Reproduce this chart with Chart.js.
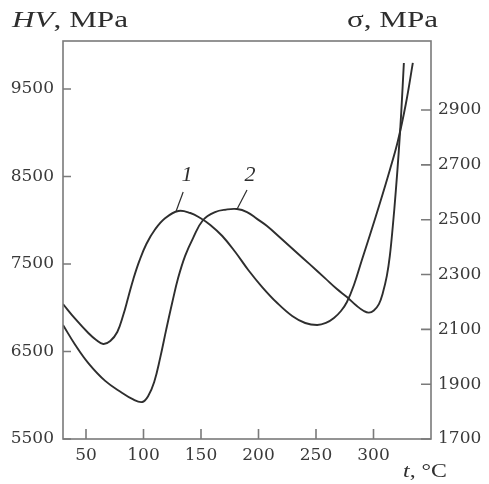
<!DOCTYPE html>
<html><head><meta charset="utf-8">
<script src="https://cdn.jsdelivr.net/npm/chart.js@4"></script>
<style>html,body{margin:0;padding:0;background:#fff;}#wrap{width:489px;height:484px;}</style>
</head><body><div id="wrap"><canvas id="c" width="489" height="484"></canvas></div>
<script>
// Curve 1 : HV (left axis), curve 2 : sigma (right axis)
const curve1T  = [30, 40.7, 52, 58.9, 65, 71.1, 77.2, 82.4, 86.8, 91.2, 96.4, 102.5, 110.3, 119, 130.3, 140.7, 149.4, 158.1, 168.5, 179.8, 191.1, 203.2, 216.3, 229.3, 240.6, 251, 258.6, 265.6, 271.7, 276.9, 283, 289.9, 296.9, 305.6, 314.2, 321.2, 328.1, 334.2];
const curve1HV = [7043, 6872, 6712, 6632, 6586, 6620, 6723, 6917, 7123, 7329, 7535, 7729, 7900, 8026, 8106, 8083, 8026, 7946, 7820, 7637, 7432, 7237, 7054, 6906, 6826, 6803, 6826, 6883, 6963, 7066, 7260, 7546, 7832, 8197, 8575, 8906, 9329, 9798];
const curve2T     = [30, 40.7, 52, 66.7, 81.5, 90.2, 98.9, 104.1, 109.3, 114.5, 119.7, 124.9, 130.1, 136.2, 143.1, 151.8, 162.2, 171.8, 181.3, 190, 198.7, 207.4, 218.7, 231.7, 244.7, 257.8, 268.2, 276.9, 285.6, 291.6, 296, 300.3, 304.7, 308.1, 311.6, 314.2, 316.8, 319.4, 322, 324.2, 326.4];
const curve2Sigma = [2116, 2043, 1977, 1912, 1868, 1846, 1835, 1857, 1908, 1996, 2098, 2196, 2287, 2368, 2433, 2499, 2528, 2537, 2539, 2528, 2503, 2477, 2435, 2386, 2337, 2287, 2247, 2218, 2185, 2167, 2161, 2169, 2192, 2233, 2295, 2368, 2477, 2605, 2751, 2897, 3072];
const xTicks     = [50, 100, 150, 200, 250, 300];
const hvTicks    = [5500, 6500, 7500, 8500, 9500];
const sigmaTicks = [1700, 1900, 2100, 2300, 2500, 2700, 2900];
const curveNames = ['1', '2'];
const leftTitle  = [{text: 'HV', italic: true}, {text: ', MPa', italic: false}];
const rightTitle = [{text: 'σ, MPa', italic: false}];
const xTitle     = [{text: 't', italic: true}, {text: ', °C', italic: false}];

const INK = '#2e2e2e';
const TXT = '#3a3a3a';
const FRAME = '#7a7a7a';
const tickFont = {family: '"DejaVu Serif"', size: 17};

function drawStretched(ctx, parts, x, baseline, targetW, size) {
  let natural = 0;
  parts.forEach(p => { ctx.font = (p.italic ? 'italic ' : '') + size + 'px "Liberation Serif"'; natural += ctx.measureText(p.text).width; });
  const sx = targetW / natural;
  ctx.save();
  ctx.translate(x, baseline);
  ctx.scale(sx, 1);
  ctx.fillStyle = INK;
  ctx.textBaseline = 'alphabetic';
  ctx.textAlign = 'left';
  let cx = 0;
  parts.forEach(p => { ctx.font = (p.italic ? 'italic ' : '') + size + 'px "Liberation Serif"'; ctx.fillText(p.text, cx, 0); cx += ctx.measureText(p.text).width; });
  ctx.restore();
}

const decor = {
  id: 'decor',
  afterDraw(chart) {
    const ctx = chart.ctx, ca = chart.chartArea;
    const sx = chart.scales.x, sl = chart.scales.yL, sr = chart.scales.yR;
    ctx.save();
    ctx.strokeStyle = FRAME;
    ctx.lineWidth = 1.6;
    ctx.strokeRect(ca.left, ca.top, ca.right - ca.left, ca.bottom - ca.top);
    ctx.beginPath();
    xTicks.forEach(v => { const p = sx.getPixelForValue(v); ctx.moveTo(p, ca.bottom); ctx.lineTo(p, ca.bottom - 10); });
    hvTicks.forEach(v => { const p = sl.getPixelForValue(v); ctx.moveTo(ca.left, p); ctx.lineTo(ca.left + 8, p); });
    sigmaTicks.forEach(v => { const p = sr.getPixelForValue(v); ctx.moveTo(ca.right, p); ctx.lineTo(ca.right - 10, p); });
    ctx.stroke();
    // curve labels with leader lines (data coordinates)
    const ann = [
      {name: curveNames[0], tx: 137.9, ty: 8518, l: [134.5, 8323, 128.4, 8106]},
      {name: curveNames[1], tx: 192.6, ty: 8518, l: [190.0, 8346, 181.4, 8129]}
    ];
    ctx.strokeStyle = INK; ctx.lineWidth = 1.2;
    ann.forEach(a => {
      ctx.beginPath();
      ctx.moveTo(sx.getPixelForValue(a.l[0]), sl.getPixelForValue(a.l[1]));
      ctx.lineTo(sx.getPixelForValue(a.l[2]), sl.getPixelForValue(a.l[3]));
      ctx.stroke();
      ctx.font = 'italic 22px "Liberation Serif"';
      ctx.fillStyle = INK; ctx.textAlign = 'center'; ctx.textBaseline = 'middle';
      ctx.fillText(a.name, sx.getPixelForValue(a.tx), sl.getPixelForValue(a.ty));
    });
    ctx.restore();
    drawStretched(ctx, leftTitle, 12, 27, 116, 24);
    drawStretched(ctx, rightTitle, 347, 27, 91, 24);
    drawStretched(ctx, xTitle, 403, 477, 44, 19);
  }
};

const plain = v => String(v);

new Chart(document.getElementById('c'), {
  type: 'line',
  data: {
    datasets: [
      {data: curve1T.map((t, i) => ({x: t, y: curve1HV[i]})), yAxisID: 'yL', borderColor: INK, borderWidth: 1.9, pointRadius: 0, tension: 0.4, fill: false},
      {data: curve2T.map((t, i) => ({x: t, y: curve2Sigma[i]})), yAxisID: 'yR', borderColor: INK, borderWidth: 1.9, pointRadius: 0, tension: 0.4, fill: false}
    ]
  },
  options: {
    responsive: false, devicePixelRatio: 1, animation: false,
    layout: {padding: {top: 41, left: 0, right: 0, bottom: 0}},
    plugins: {legend: {display: false}, tooltip: {enabled: false}},
    scales: {
      x: {type: 'linear', position: 'bottom', min: 30, max: 350,
        afterBuildTicks: s => { s.ticks = xTicks.map(v => ({value: v})); },
        afterFit: s => { s.height = 45; },
        grid: {display: false, drawTicks: false}, border: {display: false},
        ticks: {font: tickFont, color: TXT, padding: 6, autoSkip: false, maxRotation: 0, callback: plain}},
      yL: {type: 'linear', position: 'left', min: 5500, max: 10049,
        afterBuildTicks: s => { s.ticks = hvTicks.map(v => ({value: v})); },
        afterFit: s => { s.width = 63; },
        grid: {display: false, drawTicks: false}, border: {display: false},
        ticks: {font: tickFont, color: TXT, padding: 9, autoSkip: false, callback: plain}},
      yR: {type: 'linear', position: 'right', min: 1700, max: 3152,
        afterBuildTicks: s => { s.ticks = sigmaTicks.map(v => ({value: v})); },
        afterFit: s => { s.width = 58; },
        grid: {display: false, drawTicks: false}, border: {display: false},
        ticks: {font: tickFont, color: TXT, padding: 7, autoSkip: false, callback: plain}}
    }
  },
  plugins: [decor]
});
</script>
</body></html>
